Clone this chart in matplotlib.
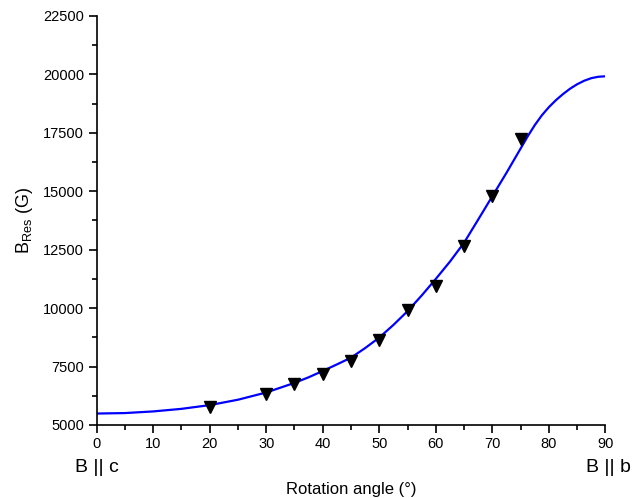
import matplotlib
matplotlib.use("Agg")
import matplotlib.pyplot as plt
from matplotlib.ticker import MultipleLocator

plt.rcParams["font.family"] = ["Liberation Sans", "DejaVu Sans"]
plt.rcParams["mathtext.fontset"] = "custom"
plt.rcParams["mathtext.rm"] = "Liberation Sans"
plt.rcParams["mathtext.it"] = "Liberation Sans:italic"

# measured resonance fields
angle_meas = [20, 30, 35, 40, 45, 50, 55, 60, 65, 70, 75]
field_meas = [5760, 6320, 6750, 7180, 7720, 8650, 9900, 10940, 12640, 14800, 17240]

# fitted curve
angle_fit = [0, 5, 10, 15, 20, 25, 30, 35, 37.5, 40, 42.5, 45, 47.5, 50,
             52.5, 55, 57.5, 60, 62.5, 65, 67.5, 70, 72.5, 73.75, 75, 76.25,
             77.5, 78.75, 80, 81.25, 82.5, 83.75, 85, 86.25, 87.5, 88.75, 90]
field_fit = [5490, 5510, 5580, 5690, 5850, 6080, 6390, 6800, 7040, 7310,
             7590, 7880, 8290, 8740, 9280, 9870, 10540, 11250, 11990, 12800,
             13790, 14790, 15790, 16310, 16830, 17350, 17830, 18250, 18600,
             18900, 19160, 19390, 19580, 19730, 19840, 19900, 19920]

fig = plt.figure(figsize=(6.32, 4.98), dpi=100)
ax = fig.add_axes([0.1527, 0.1466, 0.8053, 0.8213])

ax.plot(angle_fit, field_fit, color="#0000FF", lw=1.6, zorder=2)
ax.plot(angle_meas, field_meas, ls="none", marker="v", ms=8,
        color="black", zorder=3)

ax.set_xlim(0, 90)
ax.set_ylim(5000, 22500)
ax.xaxis.set_major_locator(MultipleLocator(10))
ax.xaxis.set_minor_locator(MultipleLocator(5))
ax.yaxis.set_major_locator(MultipleLocator(2500))
ax.yaxis.set_minor_locator(MultipleLocator(1250))

for side in ["top", "right"]:
    ax.spines[side].set_visible(False)
for side in ["left", "bottom"]:
    ax.spines[side].set_linewidth(1.2)

ax.tick_params(which="major", direction="out", length=6, width=1.2,
               labelsize=10.5, pad=3)
ax.tick_params(which="minor", direction="out", length=3.5, width=1.2)

ax.set_xlabel("Rotation angle (°)", fontsize=12, labelpad=22)
ax.set_ylabel(r"B$_{\mathrm{Res}}$ (G)", fontsize=13, labelpad=6)

fig.text(97 / 632, 1 - 467 / 498, "B || c", fontsize=14,
         ha="center", va="center")
fig.text(608 / 632, 1 - 467 / 498, "B || b", fontsize=14,
         ha="center", va="center")

fig.savefig("out.png", dpi=100)
plt.close(fig)
